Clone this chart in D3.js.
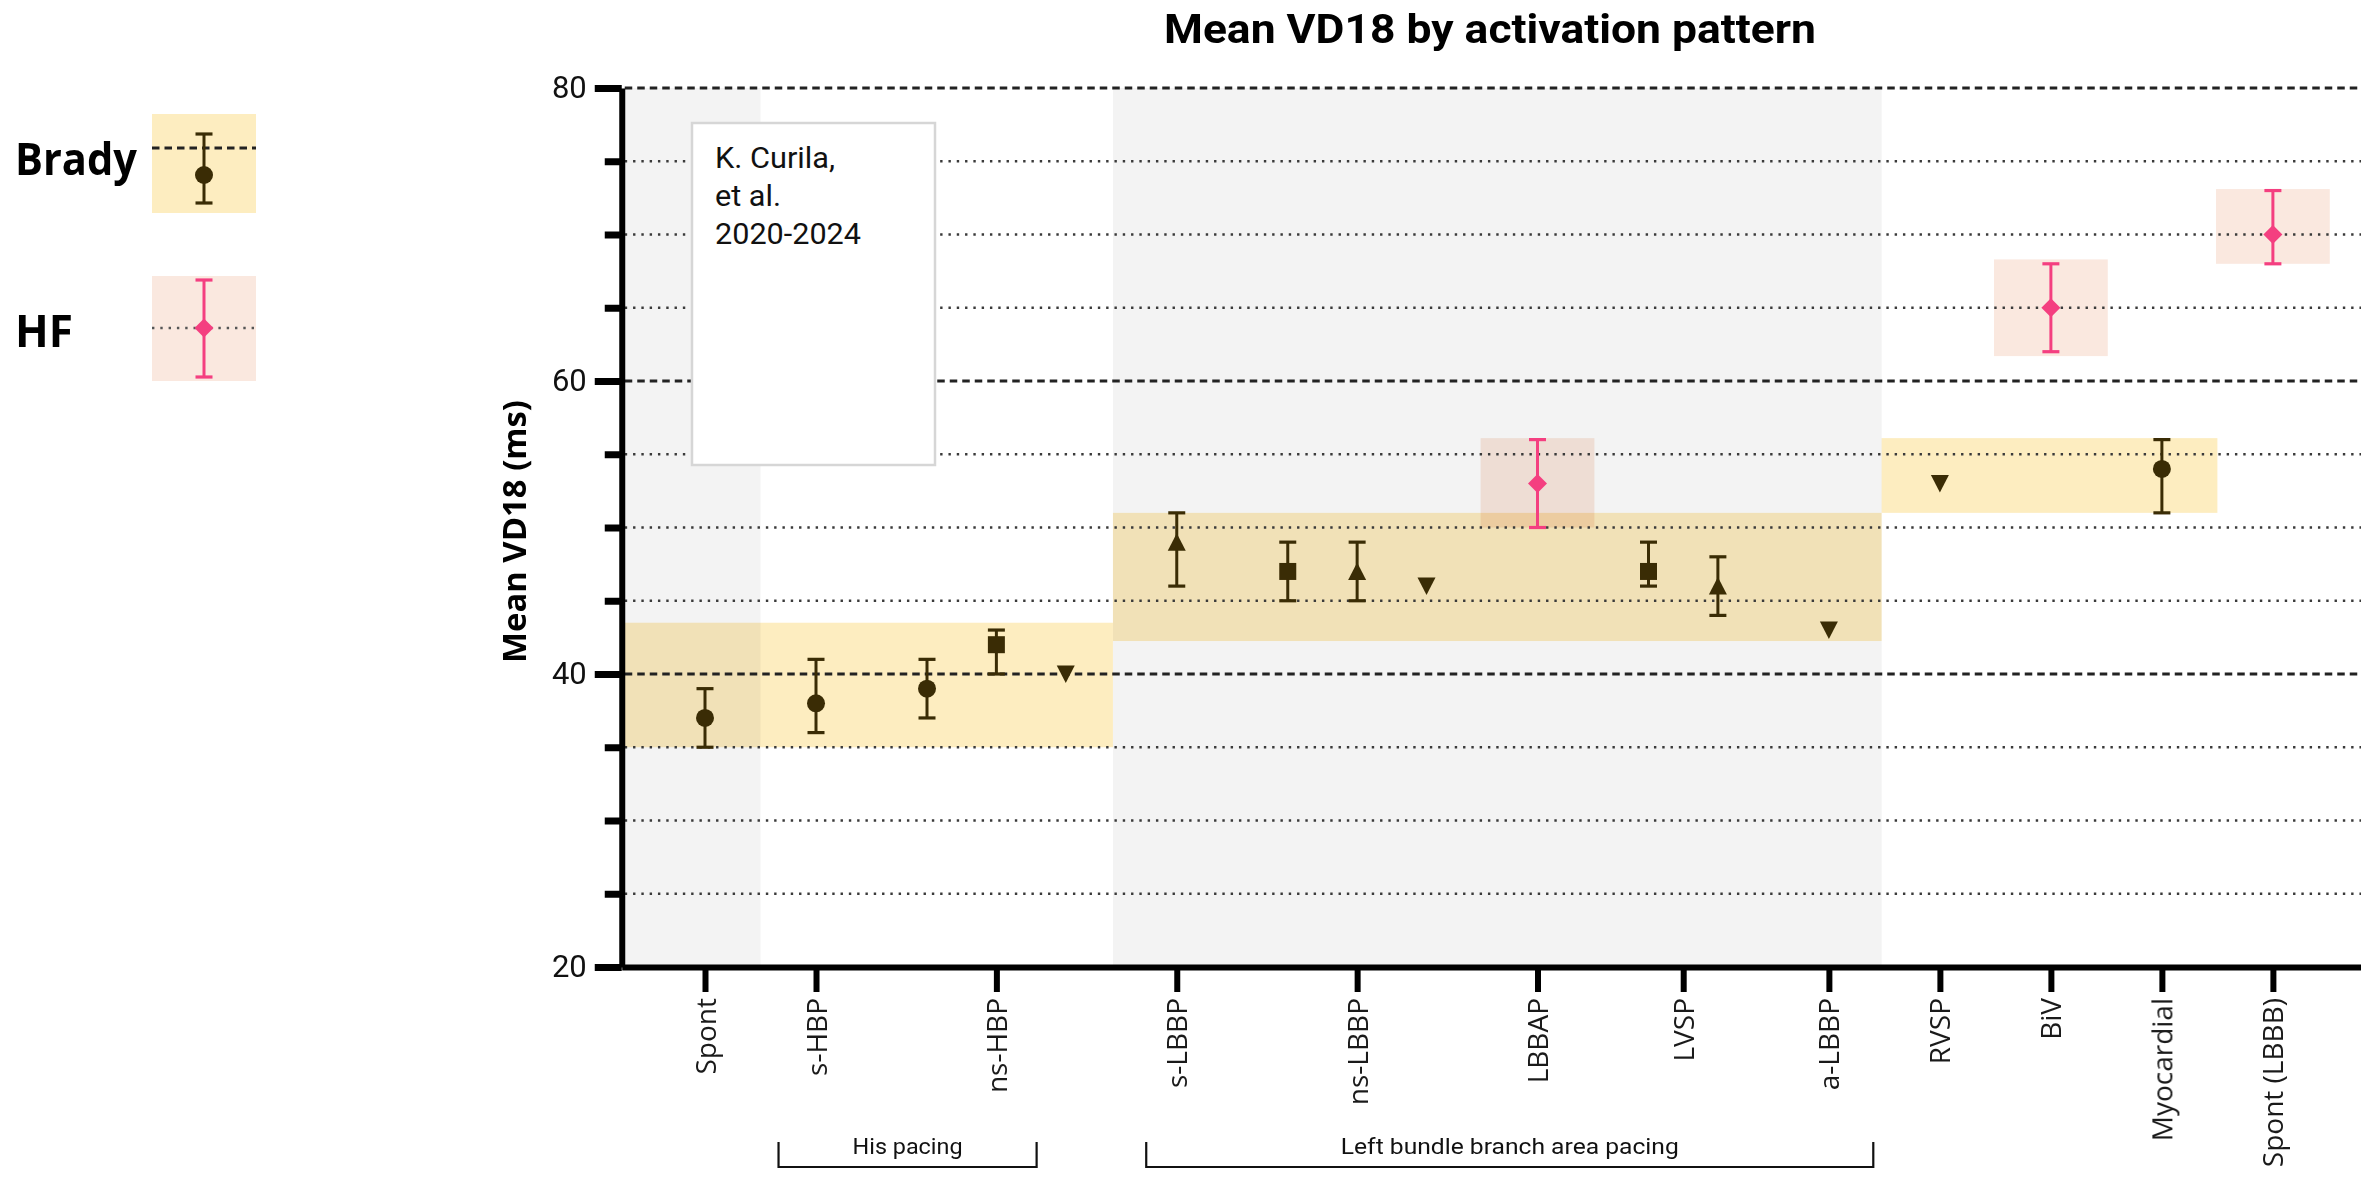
<!DOCTYPE html>
<html>
<head>
<meta charset="utf-8">
<script src="https://cdn.jsdelivr.net/npm/d3@7"></script>
<style>
  html, body { margin: 0; padding: 0; background: #ffffff; }
  svg { display: block; }
  .narrow { font-family: "Liberation Sans Narrow", "Roboto", "Liberation Sans", sans-serif; }
  .wide { font-family: "Open Sans", "Noto Sans", "DejaVu Sans", sans-serif; }
</style>
</head>
<body>
<script>
// ---------------- DATA ----------------
const titleText = "Mean VD18 by activation pattern";
const yLabelText = "Mean VD18 (ms)";

// x-axis categories (label) and their slot on the x axis (data units)
const tickLabels = ["Spont", "s-HBP", "ns-HBP", "s-LBBP", "ns-LBBP", "LBBAP", "LVSP", "a-LBBP", "RVSP", "BiV", "Myocardial", "Spont (LBBB)"];
const tickSlots  = [0, 8, 21, 34, 47, 60, 70.5, 81, 89, 97, 105, 113];

// y ticks
const yMajorTicks = [20, 40, 60, 80];
const yMinorTicks = [25, 30, 35, 45, 50, 55, 65, 70, 75];

// Brady series (dark markers)
const bradySlot  = [0, 8, 16, 21, 26, 34, 42, 47, 52, 68, 73, 81, 89, 105];
const bradyMean  = [37, 38, 39, 42, 40, 49, 47, 47, 46, 47, 46, 43, 53, 54];
const bradyLow   = [35, 36, 37, 40, null, 46, 45, 45, null, 46, 44, null, null, 51];
const bradyHigh  = [39, 41, 41, 43, null, 51, 49, 49, null, 49, 48, null, null, 56];
const bradyShape = ["circle", "circle", "circle", "square", "down", "up", "square", "up", "down", "square", "up", "down", "down", "circle"];

// HF series (pink diamonds)
const hfSlot = [60, 97, 113];
const hfMean = [53, 65, 70];
const hfLow  = [50, 62, 68];
const hfHigh = [56, 68, 73];

// Brady range bands (slot extent, value extent)
const bradyBandStart = [-6, 29.4, 84.8];
const bradyBandEnd   = [29.4, 84.8, 109];
const bradyBandLow   = [35, 42.25, 51];
const bradyBandHigh  = [43.5, 51, 56.1];

// HF range boxes (value extent, centred on HF points)
const hfBoxLow  = [50, 61.7, 68];
const hfBoxHigh = [56.1, 68.3, 73.1];

// grey shaded columns (slot extent)
const greyStart = [-6, 29.4];
const greyEnd   = [4, 84.8];

// bottom group brackets
const groupLabels = ["His pacing", "Left bundle branch area pacing"];
const groupStart  = [5.3, 31.8];
const groupEnd    = [23.9, 84.2];

// note box
const noteLines = ["K. Curila,", "et al.", "2020-2024"];

// legend
const legendLabels = ["Brady", "HF"];

// ---------------- STYLE ----------------
const W = 2361, H = 1182;
const DARK = "#3a2c05";
const PINK = "#f43f80";
const YELLOW = "#fdedc0";
const PINKBOX = "#fae8df";
const GREY = "#f3f3f3";

const x = d3.scaleLinear().domain([-6, 119.35]).range([621.75, 2361]);
const y = d3.scaleLinear().domain([20, 80]).range([967, 88]);

const svg = d3.select("body").append("svg")
  .attr("width", W).attr("height", H)
  .attr("viewBox", `0 0 ${W} ${H}`);

svg.append("rect").attr("width", W).attr("height", H).attr("fill", "#fff");

// grey columns
svg.append("g").selectAll("rect").data(greyStart).join("rect")
  .attr("x", (d) => x(d))
  .attr("width", (d, i) => x(greyEnd[i]) - x(d))
  .attr("y", y(80)).attr("height", y(20) - y(80))
  .attr("fill", GREY);

// Brady bands
const bandG = svg.append("g");
bandG.selectAll("rect.brady").data(bradyBandStart).join("rect")
  .attr("class", "brady")
  .attr("x", (d) => x(d) + (d === -6 ? 3 : 0))
  .attr("width", (d, i) => x(bradyBandEnd[i]) - x(d) - (d === -6 ? 3 : 0))
  .attr("y", (d, i) => y(bradyBandHigh[i]))
  .attr("height", (d, i) => y(bradyBandLow[i]) - y(bradyBandHigh[i]))
  .attr("fill", YELLOW)
  .style("mix-blend-mode", "multiply");

// HF boxes
const HF_HALF = 4.1;
bandG.selectAll("rect.hf").data(hfSlot).join("rect")
  .attr("class", "hf")
  .attr("x", (d) => x(d - HF_HALF))
  .attr("width", (d) => x(d + HF_HALF) - x(d - HF_HALF))
  .attr("y", (d, i) => y(hfBoxHigh[i]))
  .attr("height", (d, i) => y(hfBoxLow[i]) - y(hfBoxHigh[i]))
  .attr("fill", PINKBOX)
  .style("mix-blend-mode", "multiply");

// gridlines
const gridG = svg.append("g");
gridG.selectAll("line.minor").data(yMinorTicks).join("line")
  .attr("class", "minor")
  .attr("x1", x(-6) + 3).attr("x2", W)
  .attr("y1", (d) => y(d)).attr("y2", (d) => y(d))
  .attr("stroke", "#3a3a3a").attr("stroke-width", 2.6)
  .attr("stroke-dasharray", "2.4,5.9");
gridG.selectAll("line.major").data(yMajorTicks.filter((d) => d > 20)).join("line")
  .attr("class", "major")
  .attr("x1", x(-6) + 3).attr("x2", W)
  .attr("y1", (d) => y(d)).attr("y2", (d) => y(d))
  .attr("stroke", "#222").attr("stroke-width", 2.8)
  .attr("stroke-dasharray", "7.5,5");

// note box
const noteG = svg.append("g");
noteG.append("rect")
  .attr("x", 692).attr("y", 123).attr("width", 243).attr("height", 342)
  .attr("fill", "#fff").attr("stroke", "#d6d6d6").attr("stroke-width", 2.5);
const noteLens = [120, 66, 146];
noteG.selectAll("text").data(noteLines).join("text")
  .attr("class", "narrow")
  .attr("x", 715).attr("y", (d, i) => 168 + i * 38)
  .attr("font-size", 30).attr("fill", "#111")
  .attr("textLength", (d, i) => noteLens[i]).attr("lengthAdjust", "spacingAndGlyphs")
  .text((d) => d);

// marker helpers
function markerPath(shape) {
  if (shape === "square") return "M-8.5,-8.5H8.5V8.5H-8.5Z";
  if (shape === "up") return "M0,-9L9,8.5L-9,8.5Z";
  if (shape === "down") return "M0,9L9,-8.5L-9,-8.5Z";
  if (shape === "diamond") return "M0,-9.5L9.5,0L0,9.5L-9.5,0Z";
  return null;
}
function drawMarker(g, shape, cx, cy, color) {
  if (shape === "circle") {
    g.append("circle").attr("cx", cx).attr("cy", cy).attr("r", 9).attr("fill", color);
  } else {
    g.append("path").attr("d", markerPath(shape))
      .attr("transform", `translate(${cx},${cy})`).attr("fill", color);
  }
}
function drawErrorBar(g, cx, y1, y2, color) {
  g.append("line").attr("x1", cx).attr("x2", cx).attr("y1", y1).attr("y2", y2)
    .attr("stroke", color).attr("stroke-width", 3);
  [y1, y2].forEach((yy) => {
    g.append("line").attr("x1", cx - 8.5).attr("x2", cx + 8.5).attr("y1", yy).attr("y2", yy)
      .attr("stroke", color).attr("stroke-width", 3.2);
  });
}

// Brady points
const ptG = svg.append("g");
bradySlot.forEach((s, i) => {
  const g = ptG.append("g");
  if (bradyLow[i] !== null) drawErrorBar(g, x(s), y(bradyHigh[i]), y(bradyLow[i]), DARK);
  drawMarker(g, bradyShape[i], x(s), y(bradyMean[i]), DARK);
});
// HF points
hfSlot.forEach((s, i) => {
  const g = ptG.append("g");
  drawErrorBar(g, x(s), y(hfHigh[i]), y(hfLow[i]), PINK);
  drawMarker(g, "diamond", x(s), y(hfMean[i]), PINK);
});

// y axis (major)
const yAxisG = svg.append("g").attr("transform", `translate(${x(-6)},0)`)
  .call(d3.axisLeft(y).tickValues(yMajorTicks).tickSize(27).tickSizeOuter(0).tickPadding(8).tickFormat(d3.format("d")));
yAxisG.select(".domain").attr("stroke", "#000").attr("stroke-width", 6);
yAxisG.selectAll(".tick line").attr("stroke", "#000").attr("stroke-width", 7);
yAxisG.selectAll(".tick text").attr("class", "narrow").attr("font-size", 31).attr("fill", "#111")
  .attr("font-family", null);
// y axis (minor)
const yMinorG = svg.append("g").attr("transform", `translate(${x(-6)},0)`)
  .call(d3.axisLeft(y).tickValues(yMinorTicks).tickSize(17).tickSizeOuter(0).tickFormat(""));
yMinorG.select(".domain").remove();
yMinorG.selectAll(".tick line").attr("stroke", "#000").attr("stroke-width", 7);

// x axis
const xAxisG = svg.append("g").attr("transform", `translate(0,${y(20)})`)
  .call(d3.axisBottom(x).tickValues(tickSlots).tickSize(25).tickSizeOuter(0)
    .tickFormat((d, i) => tickLabels[i]));
xAxisG.select(".domain").attr("stroke", "#000").attr("stroke-width", 6);
xAxisG.selectAll(".tick line").attr("stroke", "#000").attr("stroke-width", 6);
xAxisG.selectAll(".tick text")
  .attr("class", "wide").attr("font-family", null)
  .attr("font-size", 28).attr("fill", "#1a1a1a")
  .attr("transform", "rotate(-90)")
  .attr("x", -31).attr("y", 0).attr("dy", "0.36em")
  .style("text-anchor", "end");

// title
svg.append("text").attr("class", "narrow")
  .attr("x", 1490).attr("y", 43).attr("text-anchor", "middle")
  .attr("font-size", 41).attr("font-weight", "bold").attr("fill", "#000")
  .attr("textLength", 652).attr("lengthAdjust", "spacingAndGlyphs")
  .text(titleText);

// y label
svg.append("text").attr("class", "wide")
  .attr("transform", `translate(526,531.5) rotate(-90)`)
  .attr("text-anchor", "middle").attr("font-size", 32).attr("font-weight", "bold")
  .attr("fill", "#000")
  .attr("textLength", 263).attr("lengthAdjust", "spacingAndGlyphs")
  .text(yLabelText);

// group brackets
const grpG = svg.append("g");
groupLabels.forEach((lab, i) => {
  const x0 = x(groupStart[i]), x1 = x(groupEnd[i]);
  grpG.append("path")
    .attr("d", `M${x0},1142V1167H${x1}V1142`)
    .attr("fill", "none").attr("stroke", "#111").attr("stroke-width", 2.2);
  grpG.append("text").attr("class", "narrow")
    .attr("x", (x0 + x1) / 2).attr("y", 1154).attr("text-anchor", "middle")
    .attr("font-size", 22).attr("fill", "#111")
    .attr("textLength", i === 0 ? 110 : 338).attr("lengthAdjust", "spacingAndGlyphs")
    .text(lab);
});

// legend
const legG = svg.append("g");
const legTop = [114, 276];
const legBottom = [213, 381];
const legLine = [148, 328];
const legLens = [122, 58];
const legBase = [175, 347];
legendLabels.forEach((lab, i) => {
  legG.append("text").attr("class", "wide")
    .attr("x", 15).attr("y", legBase[i])
    .attr("font-size", 45).attr("font-weight", "bold").attr("fill", "#000")
    .attr("textLength", legLens[i]).attr("lengthAdjust", "spacingAndGlyphs")
    .text(lab);
  legG.append("rect").attr("x", 152).attr("y", legTop[i])
    .attr("width", 104).attr("height", legBottom[i] - legTop[i])
    .attr("fill", i === 0 ? YELLOW : PINKBOX);
  legG.append("line").attr("x1", 152).attr("x2", 256)
    .attr("y1", legLine[i]).attr("y2", legLine[i])
    .attr("stroke", i === 0 ? "#222" : "#555")
    .attr("stroke-width", i === 0 ? 2.8 : 2.6)
    .attr("stroke-dasharray", i === 0 ? "7.5,5" : "2.4,5.9");
  const col = i === 0 ? DARK : PINK;
  const g = legG.append("g");
  if (i === 0) {
    drawErrorBar(g, 204, 134, 203, col);
    drawMarker(g, "circle", 204, 175, col);
  } else {
    drawErrorBar(g, 204, 280, 377, col);
    drawMarker(g, "diamond", 204, 328, col);
  }
});
</script>
</body>
</html>
